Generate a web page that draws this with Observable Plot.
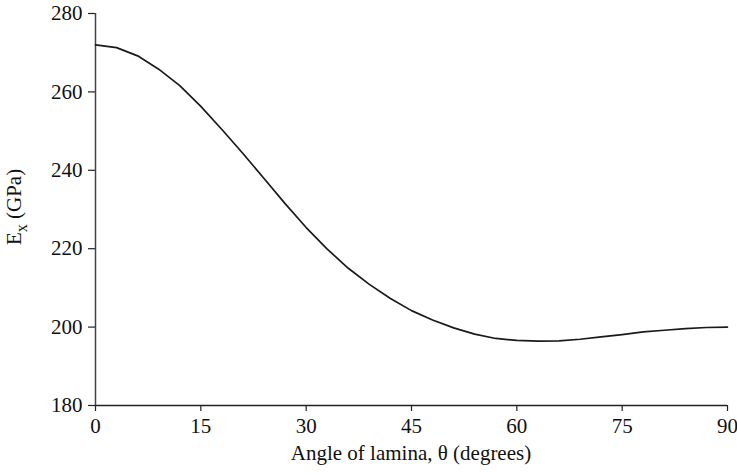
<!DOCTYPE html>
<html>
<head>
<meta charset="utf-8">
<script src="https://cdn.jsdelivr.net/npm/d3@7"></script>
<script src="https://cdn.jsdelivr.net/npm/@observablehq/plot@0.6"></script>
<style>
  html, body { margin: 0; padding: 0; background: #fff; }
  #chart svg { display: block; }
</style>
</head>
<body>
<div id="chart"></div>
<script>
const angles = [0, 3, 6, 9, 12, 15, 18, 21, 24, 27, 30, 33, 36, 39, 42, 45, 48, 51, 54, 57, 60, 63, 66, 69, 72, 75, 78, 81, 84, 87, 90];
const modulus = [272.0, 271.3, 269.2, 265.8, 261.6, 256.3, 250.4, 244.3, 237.9, 231.5, 225.4, 219.9, 215.0, 210.9, 207.3, 204.2, 201.8, 199.8, 198.2, 197.1, 196.6, 196.4, 196.5, 196.9, 197.5, 198.1, 198.8, 199.2, 199.6, 199.9, 200.0];
const xTicks = [0, 15, 30, 45, 60, 75, 90];
const yTicks = [180, 200, 220, 240, 260, 280];
const xLabel = "Angle of lamina, θ (degrees)";
const yLabelMain = "E";
const yLabelSub = "x";
const yLabelUnit = " (GPa)";

const data = angles.map((a, i) => ({angle: a, ex: modulus[i]}));
const font = "'Liberation Serif', 'DejaVu Serif', serif";

const W = 737, H = 475;
const mL = 95, mR = 10, mT = 13, mB = 70;

const chart = Plot.plot({
  width: W,
  height: H,
  marginLeft: mL,
  marginRight: mR,
  marginTop: mT,
  marginBottom: mB,
  style: {fontFamily: font, fontSize: "21px", color: "#111", background: "#fff"},
  x: {domain: [0, 90]},
  y: {domain: [180, 280]},
  marks: [
    Plot.axisX({ticks: xTicks, tickSize: 6, tickPadding: 7, label: null, fontSize: 21, stroke: "#222", strokeWidth: 1.2}),
    Plot.axisY({ticks: yTicks, tickSize: 7, tickPadding: 6, label: null, fontSize: 21, stroke: "#222", strokeWidth: 1.2}),
    Plot.ruleX([0], {stroke: "#444", strokeWidth: 1.5}),
    Plot.ruleY([180], {stroke: "#222", strokeWidth: 1.5}),
    Plot.line(data, {x: "angle", y: "ex", stroke: "#1a1a1a", strokeWidth: 1.7, curve: "linear"})
  ]
});

const svg = d3.select(chart);
svg.append("text")
  .attr("x", mL + (W - mL - mR) / 2)
  .attr("y", 460)
  .attr("text-anchor", "middle")
  .attr("font-family", font)
  .attr("font-size", 21)
  .attr("fill", "#111")
  .text(xLabel);

const yl = svg.append("text")
  .attr("transform", `translate(21, 207) rotate(-90)`)
  .attr("text-anchor", "middle")
  .attr("font-family", font)
  .attr("font-size", 21)
  .attr("fill", "#111");
yl.append("tspan").text(yLabelMain);
yl.append("tspan").attr("font-size", 16).attr("dy", 6).text(yLabelSub);
yl.append("tspan").attr("dy", -6).text(yLabelUnit);

document.getElementById("chart").appendChild(chart);
</script>
</body>
</html>
